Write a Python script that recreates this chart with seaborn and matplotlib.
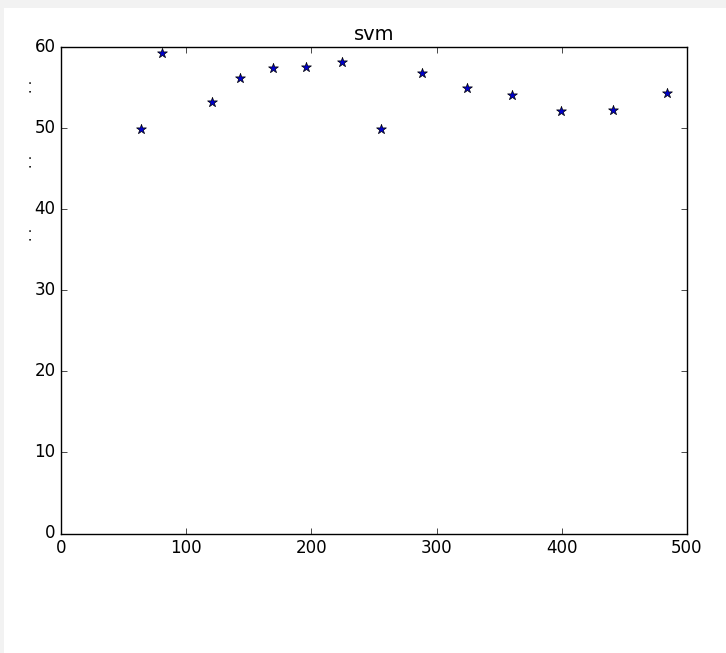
import matplotlib
matplotlib.use("Agg")
import matplotlib.pyplot as plt
import seaborn as sns
import pandas as pd
from matplotlib.patches import Rectangle

x_vals = [64, 81, 120.6, 143.2, 169.3, 195.9, 224.7, 255.6, 288.3, 324, 360.5, 399.4, 441.1, 484]
y_vals = [49.83, 59.2, 53.2, 56.1, 57.3, 57.5, 58.1, 49.83, 56.7, 54.9, 54.0, 52.1, 52.2, 54.3]
title = "svm"
x_ticks = [0, 100, 200, 300, 400, 500]
y_ticks = [0, 10, 20, 30, 40, 50, 60]

plt.style.use("classic")
df = pd.DataFrame({"x": x_vals, "y": y_vals})

fig = plt.figure(figsize=(7.26, 6.53), dpi=100, facecolor="white")
# light grey strips at top and left edges
fig.patches.append(Rectangle((0, 1 - 8 / 653), 1, 8 / 653, transform=fig.transFigure,
                             facecolor="#f2f2f2", edgecolor="none", zorder=0))
fig.patches.append(Rectangle((0, 0), 4 / 726, 1, transform=fig.transFigure,
                             facecolor="#f2f2f2", edgecolor="none", zorder=0))

ax = fig.add_axes([61 / 726, 1 - 533.5 / 653, 626 / 726, 487 / 653])
sns.scatterplot(data=df, x="x", y="y", marker="*", s=55, color="#0000cc",
                edgecolor="black", linewidth=0.5, ax=ax, legend=False)
ax.set_xlim(0, 500)
ax.set_ylim(0, 60)
ax.set_xticks(x_ticks)
ax.set_yticks(y_ticks)
ax.set_xlabel("")
ax.set_ylabel("")
ax.set_title(title, fontsize=14)
ax.tick_params(labelsize=12)

for yy in [86.5, 161.5, 234.5]:
    fig.text(28 / 726, 1 - yy / 653, ". .", rotation=90, fontsize=10,
             ha="center", va="center", color="black")

fig.savefig("out.png", dpi=100, facecolor=fig.get_facecolor())
